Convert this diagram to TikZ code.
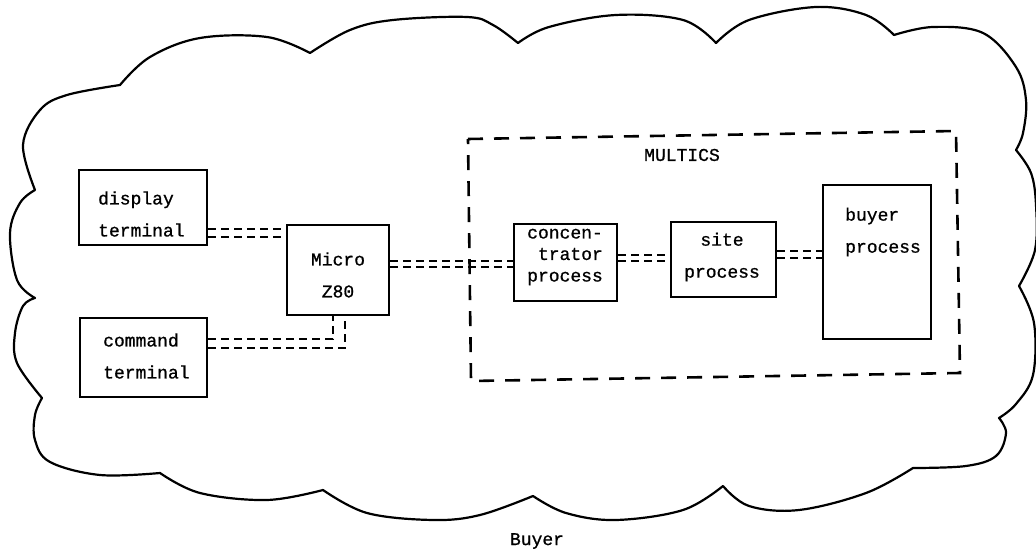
\documentclass[tikz,border=0pt]{standalone}
\usepackage{fontspec}
\newfontfamily\twfont[FakeBold=0.9]{Liberation Mono}
\begin{document}
\begin{tikzpicture}[x=1pt,y=-1pt,
  box/.style={draw, line width=2.7pt, inner sep=0pt},
  txt/.style={font=\fontsize{18}{32}\selectfont\twfont, inner sep=0pt},
  conn/.style={line width=1.7pt, dash pattern=on 8pt off 5pt},
  cloudline/.style={line width=2.2pt, line join=round},
  sysbox/.style={line width=2.6pt, dash pattern=on 15pt off 11pt}]
\useasboundingbox (0,0) rectangle (1036,553);

% cloud
\draw[cloudline]
  plot[smooth, tension=0.6] coordinates {(35,190) (23,145) (40,110) (67,95) (120,85)}
  -- plot[smooth, tension=0.6] coordinates {(120,85) (150,57) (200,38) (267,37) (310,53)}
  -- plot[smooth, tension=0.6] coordinates {(310,53) (350,30) (393,20) (467,17) (493,25) (518,43)}
  -- plot[smooth, tension=0.6] coordinates {(518,43) (549,27) (616,15) (683,20) (716,43)}
  -- plot[smooth, tension=0.6] coordinates {(716,43) (749,20) (816,7) (866,15) (894,35)}
  -- plot[smooth, tension=0.6] coordinates {(894,35) (933,27) (983,33) (1016,67) (1026,100) (1023,133) (1016,150)}
  -- plot[smooth, tension=0.6] coordinates {(1016,150) (1031,173) (1036,205) (1035,250) (1019,286)}
  -- plot[smooth, tension=0.6] coordinates {(1019,286) (1034,323) (1033,375) (1016,404) (999,418)}
  -- plot[smooth, tension=0.6] coordinates {(999,418) (1006,433) (996,456) (966,466) (913,468)}
  -- plot[smooth, tension=0.6] coordinates {(913,468) (866,493) (799,510) (749,506) (723,486)}
  -- plot[smooth, tension=0.6] coordinates {(723,486) (683,510) (616,520) (566,513) (533,496)}
  -- plot[smooth, tension=0.6] coordinates {(533,496) (480,515) (433,520) (367,513) (323,490)}
  -- plot[smooth, tension=0.6] coordinates {(323,490) (267,500) (200,493) (160,473)}
  -- plot[smooth, tension=0.6] coordinates {(160,473) (100,475) (50,462) (35,440) (35,415) (42,398)}
  -- plot[smooth, tension=0.6] coordinates {(42,398) (17,363) (15,333) (23,306) (35,298)}
  -- plot[smooth, tension=0.6] coordinates {(35,298) (17,280) (10,233) (20,203) (35,190)}
  -- cycle;

% MULTICS dashed boundary
\coordinate (m1) at (468,139);
\coordinate (m2) at (956,131);
\coordinate (m3) at (960,373);
\coordinate (m4) at (471,381);
\draw[sysbox] (m1) -- (m2) -- (m3) -- (m4) -- cycle;
\node[txt] (multics) at (682,155) {MULTICS};

% boxes
\node[box, minimum width=128pt, minimum height=75pt] (disp) at (143,207.5) {};
\node[box, minimum width=127pt, minimum height=79pt] (cmd) at (143.5,357.5) {};
\node[box, minimum width=102pt, minimum height=90pt] (micro) at (338,270) {};
\node[box, minimum width=103pt, minimum height=77pt] (conc) at (565.5,262.5) {};
\node[box, minimum width=105pt, minimum height=75pt] (site) at (723.5,259.5) {};
\node[box, minimum width=108pt, minimum height=154pt] (buyer) at (877,262) {};

% texts
\node[txt, anchor=west, align=left] (dispt) at (98,214) {display\\terminal};
\node[txt, anchor=west, align=left] (cmdt) at (103,356) {command\\terminal};
\node[txt, align=center] (microt) at (338,275) {Micro\\Z80};
\node[txt, anchor=west, align=left, font=\fontsize{18}{21.5}\selectfont\twfont] (conct) at (527,257) {concen-\\\phantom{c}trator\\process};
\node[txt, align=center] (sitet) at (722,257) {site\\process};
\node[txt, anchor=west, align=left] (buyert) at (845,232) {buyer\\process};
\node[txt] (buyerlbl) at (537,541) {Buyer};

% connectors
\draw[conn] (disp.east |- 0,229) -- (micro.west |- 0,229);
\draw[conn] (disp.east |- 0,237) -- (micro.west |- 0,237);
\draw[conn] (micro.east |- 0,261) -- (conc.west |- 0,261);
\draw[conn] (micro.east |- 0,267) -- (conc.west |- 0,267);
\draw[conn] (conc.east |- 0,255) -- (site.west |- 0,255);
\draw[conn] (conc.east |- 0,261) -- (site.west |- 0,261);
\draw[conn] (site.east |- 0,251) -- (buyer.west |- 0,251);
\draw[conn] (site.east |- 0,258) -- (buyer.west |- 0,258);
\draw[conn] (cmd.east |- 0,339) -| (micro.south -| 333,0);
\draw[conn] (cmd.east |- 0,348) -| (micro.south -| 345,0);
\end{tikzpicture}
\end{document}
